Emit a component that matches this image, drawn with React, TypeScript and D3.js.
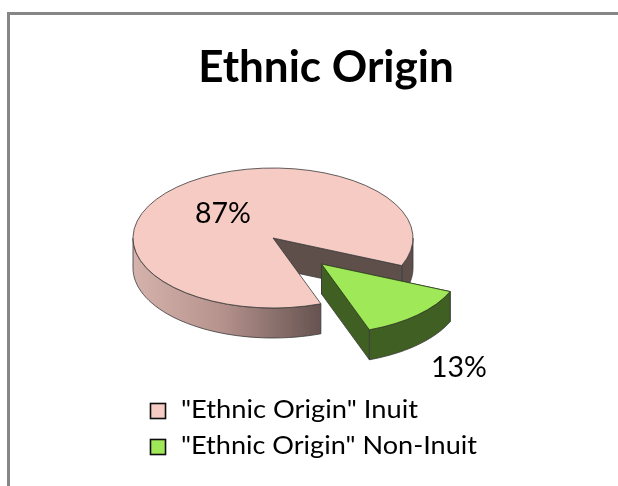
import React from "react";
import * as d3 from "d3";

const categories = ['"Ethnic Origin" Inuit', '"Ethnic Origin" Non-Inuit'];
const legendWidths = [237, 296];
const values = [87, 13];
const valueLabels = ["87%", "13%"];
const topColors = ["#f6cbc3", "#9fe858"];
const title = "Ethnic Origin";
const FONT = "Lato, 'Open Sans', sans-serif";

const W = 618, H = 486;
const cx = 273, cy = 238, R = 140, squash = 0.5, depth = 30;
const explode: [number, number] = [48.5, 26];
const rad = Math.PI / 180;

const pie = d3.pie<number>().sort(null).startAngle(160 * rad).endAngle(520 * rad);
const slices = pie(values);
const arc = d3.arc<d3.PieArcDatum<number>>().innerRadius(0).outerRadius(R);

type P = [number, number];
const pt = (a: number, dx = 0, dy = 0, r = R): P => [
  cx + dx + r * Math.sin(a),
  cy + dy - r * Math.cos(a) * squash,
];
const line = d3.line<P>();

function wall(a0: number, a1: number, dx = 0, dy = 0) {
  const n = 40;
  const top = d3.range(n + 1).map((i) => pt(a0 + ((a1 - a0) * i) / n, dx, dy));
  const bottom = top.slice().reverse().map(([x, y]): P => [x, y + depth]);
  return line([...top, ...bottom]) + "Z";
}
function radialWall(a: number, dx = 0, dy = 0) {
  const c: P = [cx + dx, cy + dy];
  const e = pt(a, dx, dy);
  return line([c, e, [e[0], e[1] + depth], [c[0], c[1] + depth]]) + "Z";
}

export default function App() {
  const pink = slices[0];
  const green = slices[1];
  const greenStart = green.startAngle - 2 * Math.PI;
  const greenEnd = green.endAngle - 2 * Math.PI;
  const edge = { stroke: "#3a3a3a", strokeWidth: 0.8 };
  const darkPink = "#5f4f4c";
  const darkGreen = "#3f5f20";
  return (
    <svg
      width={W}
      height={H}
      viewBox={`0 0 ${W} ${H}`}
      style={{ position: "fixed", left: 0, top: 0, display: "block", background: "#fff" }}
    >
      <defs>
        <linearGradient id="pinkWall" gradientUnits="userSpaceOnUse" x1={133} x2={322} y1={0} y2={0}>
          <stop offset="0" stopColor="#d6b2ad" />
          <stop offset="0.45" stopColor="#b8948f" />
          <stop offset="1" stopColor="#65524f" />
        </linearGradient>
        <filter id="soft" filterUnits="userSpaceOnUse" x="0" y="0" width={W} height={H}>
          <feGaussianBlur stdDeviation="0.45" />
        </filter>
      </defs>
      <g filter="url(#soft)">
        <path d={`M8.5 ${H + 5}V13.5H${W + 5}`} fill="none" stroke="#868686" strokeWidth={3} />
        <text x={326} y={82} textAnchor="middle" fontFamily={FONT} fontWeight={700} fontSize={44} fill="#000">
          {title}
        </text>

        <path d={wall(90 * rad, 113 * rad)} fill={darkPink} {...edge} />
        <path d={radialWall(pink.endAngle - 2 * Math.PI)} fill={darkPink} {...edge} />
        <path d={wall(pink.startAngle, 270 * rad)} fill="url(#pinkWall)" {...edge} />
        <path
          d={arc(pink)!}
          transform={`translate(${cx},${cy}) scale(1,${squash})`}
          fill={topColors[0]}
          stroke="#3a3a3a"
          strokeWidth={0.8}
          vectorEffect="non-scaling-stroke"
        />
        <path d={radialWall(greenStart, explode[0], explode[1])} fill={darkGreen} {...edge} />
        <path d={wall(greenStart, greenEnd, explode[0], explode[1])} fill={darkGreen} {...edge} />
        <path d={radialWall(greenEnd, explode[0], explode[1])} fill={darkGreen} {...edge} />
        <path
          d={arc(green)!}
          transform={`translate(${cx + explode[0]},${cy + explode[1]}) scale(1,${squash})`}
          fill={topColors[1]}
          stroke="#2c3c18"
          strokeWidth={0.8}
          vectorEffect="non-scaling-stroke"
        />
        <text x={223} y={223} textAnchor="middle" fontFamily={FONT} fontSize={28.5} fill="#000">
          {valueLabels[0]}
        </text>
        <text x={459} y={377} textAnchor="middle" fontFamily={FONT} fontSize={28.5} fill="#000">
          {valueLabels[1]}
        </text>
        {categories.map((c, i) => (
          <g key={c} transform={`translate(150,${403 + i * 36})`}>
            <rect x={0.5} y={0.5} width={15} height={15} fill={topColors[i]} stroke="#111" strokeWidth={1.6} />
            <text
              x={31}
              y={15}
              fontFamily={FONT}
              fontSize={25}
              fill="#000"
              textLength={legendWidths[i]}
              lengthAdjust="spacingAndGlyphs"
            >
              {c}
            </text>
          </g>
        ))}
      </g>
    </svg>
  );
}
